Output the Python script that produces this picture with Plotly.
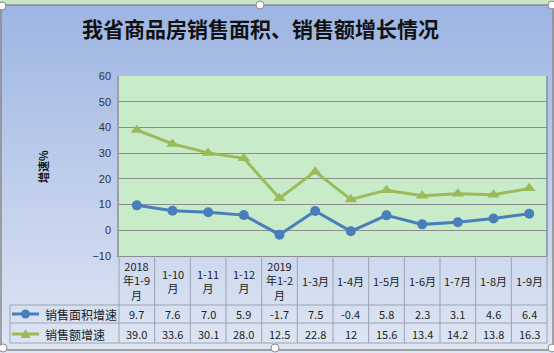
import base64
import plotly.graph_objects as go

# ---------------- data ----------------
categories = ["2018<br>年1-9<br>月", "1-10<br>月", "1-11<br>月", "1-12<br>月", "2019<br>年1-2<br>月",
              "1-3月", "1-4月", "1-5月", "1-6月", "1-7月", "1-8月", "1-9月"]
area_text = ["9.7", "7.6", "7.0", "5.9", "-1.7", "7.5", "-0.4", "5.8", "2.3", "3.1", "4.6", "6.4"]
amount_text = ["39.0", "33.6", "30.1", "28.0", "12.5", "22.8", "12", "15.6", "13.4", "14.2", "13.8", "16.3"]
area_values = [float(s) for s in area_text]
amount_values = [float(s) for s in amount_text]
series_names = ["销售面积增速", "销售额增速"]
title_text = "我省商品房销售面积、销售额增长情况"
y_title = "增速%"
y_ticks = [-10, 0, 10, 20, 30, 40, 50, 60]

BLUE = "#4a7ebb"
GREEN = "#9bbb59"
GRID = "#8c8c8c"
TLINE = "#9aa3b0"
PLOT_BG = "#c8ecca"

W, H = 554, 353
ML, MR, MT, MB = 119, 7, 76, 97
PW = W - ML - MR
PH = H - MT - MB
n = len(categories)


def px(xp):
    return (xp - ML) / PW


def py(yp):
    return (H - MB - yp) / PH


x_idx = list(range(n))

fig = go.Figure()
fig.add_trace(go.Scatter(x=x_idx, y=area_values, mode="lines+markers", name=series_names[0],
                         line=dict(color=BLUE, width=3),
                         marker=dict(symbol="circle", size=10, color=BLUE)))
fig.add_trace(go.Scatter(x=x_idx, y=amount_values, mode="lines+markers", name=series_names[1],
                         line=dict(color=GREEN, width=3),
                         marker=dict(symbol="triangle-up", size=11, color=GREEN)))

# gradient background
svg = ('<svg xmlns="http://www.w3.org/2000/svg" width="554" height="353">'
       '<defs><linearGradient id="g" x1="0" y1="0" x2="0" y2="1">'
       '<stop offset="0" stop-color="#9db5e3"/><stop offset="1" stop-color="#dfe6f3"/>'
       '</linearGradient></defs><rect width="554" height="353" fill="url(#g)"/></svg>')
src = "data:image/svg+xml;base64," + base64.b64encode(svg.encode()).decode()

shapes = []
# plot area fill (above the gradient image)
shapes.append(dict(type="rect", xref="paper", yref="paper", x0=0, x1=1, y0=0, y1=1,
                   fillcolor=PLOT_BG, line=dict(width=0), layer="below"))
# top strip (chart above)
shapes.append(dict(type="rect", xref="paper", yref="paper", x0=px(0), x1=px(W), y0=py(0), y1=py(5),
                   fillcolor="#c9e6c8", line=dict(width=0), layer="below"))
# outer border
shapes.append(dict(type="rect", xref="paper", yref="paper", x0=px(1), x1=px(553), y0=py(5), y1=py(350),
                   line=dict(color="#8a8a8a", width=1.5), fillcolor="rgba(0,0,0,0)"))
# plot right border
shapes.append(dict(type="line", xref="paper", yref="paper", x0=1, x1=1, y0=0, y1=1,
                   line=dict(color="#7f8fa8", width=1.5)))

# table geometry
header_bottom, row1_bottom, row2_bottom = 305, 323, 343
legend_left = 10
for yy in (header_bottom, row1_bottom, row2_bottom):
    shapes.append(dict(type="line", xref="paper", yref="paper", x0=px(legend_left), x1=1,
                       y0=py(yy), y1=py(yy), line=dict(color=TLINE, width=1)))
shapes.append(dict(type="line", xref="paper", yref="paper", x0=px(legend_left), x1=px(legend_left),
                   y0=py(header_bottom), y1=py(row2_bottom), line=dict(color=TLINE, width=1)))
for k in range(n + 1):
    xx = k / n
    shapes.append(dict(type="line", xref="paper", yref="paper", x0=xx, x1=xx,
                       y0=0, y1=py(row2_bottom), line=dict(color=TLINE, width=1)))

row_centers = [(header_bottom + row1_bottom) / 2, (row1_bottom + row2_bottom) / 2 + 1]
# legend keys
for r, (col, sym) in enumerate([(BLUE, "circle"), (GREEN, "triangle")]):
    yc = row_centers[r]
    shapes.append(dict(type="line", xref="paper", yref="paper", x0=px(12), x1=px(39),
                       y0=py(yc), y1=py(yc), line=dict(color=col, width=3)))
    if sym == "circle":
        shapes.append(dict(type="circle", xref="paper", yref="paper", x0=px(21), x1=px(30),
                           y0=py(yc - 4.5), y1=py(yc + 4.5), fillcolor=col, line=dict(color=col, width=0)))
    else:
        shapes.append(dict(type="path", xref="paper", yref="paper",
                           path=f"M {px(20.5)} {py(yc + 4)} L {px(30.5)} {py(yc + 4)} L {px(25.5)} {py(yc - 5)} Z",
                           fillcolor=col, line=dict(color=col, width=0)))

# selection handles
for hx, hy in [(2, 6), (260, 5), (552, 5), (3, 348), (275, 348), (552, 348)]:
    shapes.append(dict(type="circle", xref="paper", yref="paper", x0=px(hx - 4), x1=px(hx + 4),
                       y0=py(hy - 4), y1=py(hy + 4), fillcolor="white", line=dict(color="#8a8a8a", width=1)))

annotations = []
annotations.append(dict(text=f"<b>{title_text}</b>", xref="paper", yref="paper", x=px(260), y=py(28),
                        showarrow=False, font=dict(family="Noto Sans CJK SC", size=21, color="#111"),
                        xanchor="center", yanchor="middle"))
annotations.append(dict(text=f"<b>{y_title}</b>", xref="paper", yref="paper", x=px(43), y=py(167),
                        showarrow=False, textangle=-90, font=dict(family="Noto Sans CJK SC", size=11, color="#111"),
                        xanchor="center", yanchor="middle"))
cell_font = dict(family="Noto Sans CJK SC", size=11, color="#222")
for i, lab in enumerate(categories):
    annotations.append(dict(text=lab, xref="x", yref="paper", x=i, y=py((256 + header_bottom) / 2),
                            showarrow=False, font=cell_font, xanchor="center", yanchor="middle"))
    annotations.append(dict(text=area_text[i], xref="x", yref="paper", x=i, y=py(row_centers[0]),
                            showarrow=False, font=cell_font, xanchor="center", yanchor="middle"))
    annotations.append(dict(text=amount_text[i], xref="x", yref="paper", x=i, y=py(row_centers[1]),
                            showarrow=False, font=cell_font, xanchor="center", yanchor="middle"))
for r, name in enumerate(series_names):
    annotations.append(dict(text=name, xref="paper", yref="paper", x=px(43), y=py(row_centers[r]),
                            showarrow=False, font=dict(family="Noto Sans CJK SC", size=12, color="#222"),
                            xanchor="left", yanchor="middle"))

fig.update_layout(
    width=W, height=H,
    margin=dict(l=ML, r=MR, t=MT, b=MB, pad=0),
    paper_bgcolor="#c6d3ee",
    plot_bgcolor=PLOT_BG,
    showlegend=False,
    images=[dict(source=src, xref="paper", yref="paper", x=px(0), y=py(5), sizex=W / PW, sizey=(H - 5) / PH,
                 xanchor="left", yanchor="top", sizing="stretch", layer="below")],
    shapes=shapes,
    annotations=annotations,
    xaxis=dict(range=[-0.5, n - 0.5], showgrid=False, zeroline=False, showticklabels=False,
               showline=True, linecolor=GRID, linewidth=1, fixedrange=True),
    yaxis=dict(range=[-10, 60], tickvals=y_ticks, showgrid=True, gridcolor=GRID, gridwidth=1,
               zeroline=False, showline=True, linecolor="#a0a0a0", linewidth=1.5,
               tickfont=dict(family="Liberation Sans", size=11, color="#333"),
               ticks="outside", ticklen=4, tickcolor="rgba(0,0,0,0)", fixedrange=True),
)

fig.write_html("out.html")
